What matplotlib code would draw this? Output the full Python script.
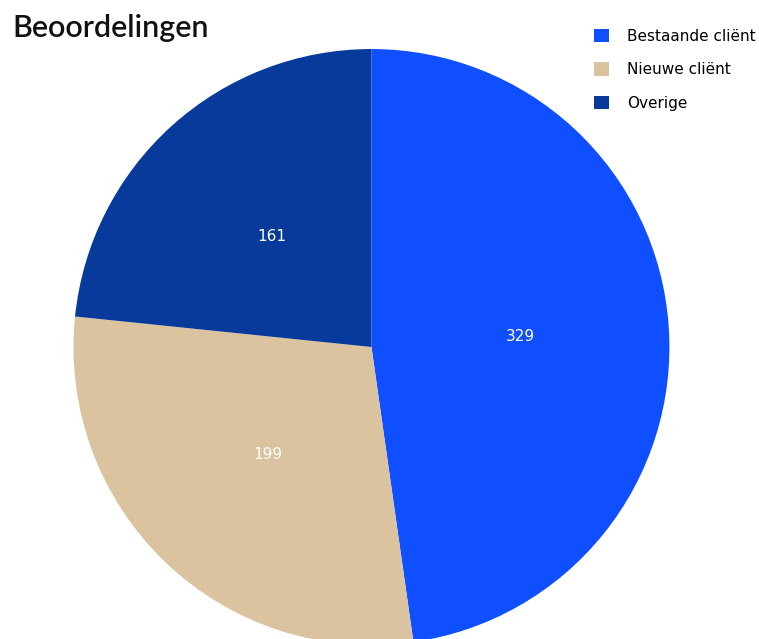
import matplotlib
matplotlib.use("Agg")
import matplotlib.pyplot as plt
from matplotlib.patches import Patch

categories = ["Bestaande cliënt", "Nieuwe cliënt", "Overige"]
values = [329, 199, 161]
colors = ["#0F4FFF", "#DCC3A0", "#073A9A"]

fig = plt.figure(figsize=(7.59, 6.39), dpi=100)
ax = fig.add_axes([0.0968, -0.0094, 0.7852, 0.9327])
wedges, texts, autotexts = ax.pie(
    values, colors=colors, startangle=90, counterclock=False,
    autopct=lambda p: f"{round(p * sum(values) / 100):d}", pctdistance=0.5,
    textprops=dict(color="white", fontsize=11, family="DejaVu Sans"),
)
ax.set_xlim(-1, 1)
ax.set_ylim(-1, 1)
ax.set_aspect("equal")

fig.text(12 / 759, 1 - 28 / 639, "Beoordelingen", fontsize=22, fontweight="semibold",
         family="Lato", va="center", ha="left", color="#111111")

handles = [Patch(facecolor=c, edgecolor="none") for c in colors]
leg = fig.legend(handles, categories, loc="upper left", bbox_to_anchor=(580 / 759, 1 - 15 / 639),
                 frameon=False, handlelength=1.0, handleheight=1.0, labelspacing=1.2,
                 handletextpad=1.2, prop=dict(family="DejaVu Sans", size=11))

fig.savefig("out.png", dpi=100)
